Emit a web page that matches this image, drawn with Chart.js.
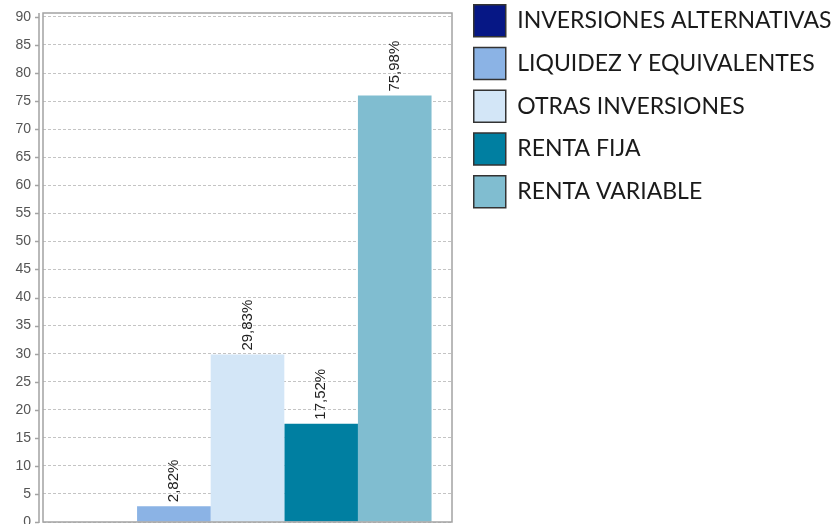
<!DOCTYPE html>
<html>
<head>
<meta charset="utf-8">
<script src="https://cdn.jsdelivr.net/npm/chart.js@4/dist/chart.umd.min.js"></script>
<style>
  html, body { margin: 0; padding: 0; background: #ffffff; }
  #wrap { width: 836px; height: 524px; }
</style>
</head>
<body>
<div id="wrap"><canvas id="c" width="836" height="524"></canvas></div>
<script>
const categories = [''];
const seriesNames = [
  'INVERSIONES ALTERNATIVAS',
  'LIQUIDEZ Y EQUIVALENTES',
  'OTRAS INVERSIONES',
  'RENTA FIJA',
  'RENTA VARIABLE'
];
const seriesValues = [0, 2.82, 29.83, 17.52, 75.98];
const seriesColors = ['#061785', '#8bb3e5', '#d3e6f7', '#007fa1', '#80bdd0'];
const yTickMin = 0;
const yTickMax = 90;
const yTickStep = 5;

function fmtPct(v) {
  return v.toFixed(2).replace('.', ',') + '%';
}

const datasets = seriesNames.map((name, i) => ({
  label: name,
  data: [seriesValues[i]],
  backgroundColor: seriesColors[i],
  borderWidth: 0,
  categoryPercentage: 0.9,
  barPercentage: 1.0
}));

const framePlugin = {
  id: 'frame',
  beforeDraw(chart) {
    if (chart.legend) { chart.legend.top = -6; }
  },
  afterDatasetsDraw(chart) {
    const ctx = chart.ctx;
    const a = chart.chartArea;
    const ys = chart.scales.y;
    ctx.save();
    // data labels
    ctx.font = '15px "Liberation Sans", Arial, sans-serif';
    ctx.fillStyle = '#222222';
    ctx.textAlign = 'left';
    ctx.textBaseline = 'middle';
    chart.data.datasets.forEach((ds, i) => {
      const meta = chart.getDatasetMeta(i);
      meta.data.forEach((el, j) => {
        const v = ds.data[j];
        if (!v) return;
        ctx.save();
        ctx.translate(el.x, el.y - 4);
        ctx.rotate(-Math.PI / 2);
        ctx.fillText(fmtPct(v), 0, 0);
        ctx.restore();
      });
    });
    // frame
    ctx.strokeStyle = '#a3a3a3';
    ctx.lineWidth = 1.5;
    ctx.strokeRect(a.left, a.top, a.right - a.left, a.bottom - a.top);
    // axis line and tick marks
    const ax = a.left - 4;
    ctx.beginPath();
    ctx.moveTo(ax, a.top);
    ctx.lineTo(ax, a.bottom + 1);
    ys.ticks.forEach(t => {
      const y = Math.round(ys.getPixelForValue(t.value)) + 0.5;
      ctx.moveTo(ax - 4, y);
      ctx.lineTo(ax, y);
    });
    ctx.stroke();
    ctx.restore();
  }
};

new Chart(document.getElementById('c'), {
  type: 'bar',
  data: { labels: categories, datasets: datasets },
  options: {
    responsive: false,
    animation: false,
    layout: { padding: { top: 0, bottom: 2, left: 0, right: 0 } },
    scales: {
      x: {
        display: false,
        grid: { display: false }
      },
      xTop: {
        type: 'category',
        labels: categories,
        position: 'top',
        display: true,
        grid: { display: false },
        border: { display: false },
        ticks: { display: false },
        afterFit(s) { s.height = 13; }
      },
      y: {
        min: yTickMin,
        max: yTickMax + 0.7,
        position: 'left',
        border: { display: false, dash: [3, 2] },
        grid: {
          color: '#c4c4c4',
          lineWidth: 1,
          drawTicks: false
        },
        ticks: {
          stepSize: yTickStep,
          includeBounds: false,
          padding: 12,
          color: '#555555',
          font: { family: '"Liberation Sans", Arial, sans-serif', size: 14 }
        },
        afterFit(s) { s.width = 43; s.paddingTop = 0; s.paddingBottom = 0; }
      },
      yRight: {
        type: 'linear',
        position: 'right',
        display: true,
        grid: { display: false },
        border: { display: false },
        ticks: { display: false },
        afterFit(s) { s.width = 11; s.paddingTop = 0; s.paddingBottom = 0; }
      }
    },
    plugins: {
      legend: {
        position: 'right',
        align: 'start',
        maxWidth: 373,
        labels: {
          boxWidth: 32,
          boxHeight: 32,
          padding: 10.75,
          color: '#1a1a1a',
          font: { family: 'Lato, sans-serif', size: 23 },
          generateLabels(chart) {
            const base = Chart.defaults.plugins.legend.labels.generateLabels(chart);
            return base.map(l => Object.assign(l, { strokeStyle: '#333333', lineWidth: 1.5 }));
          }
        },
        onClick: null
      },
      tooltip: { enabled: false }
    }
  },
  plugins: [framePlugin]
});
</script>
</body>
</html>
